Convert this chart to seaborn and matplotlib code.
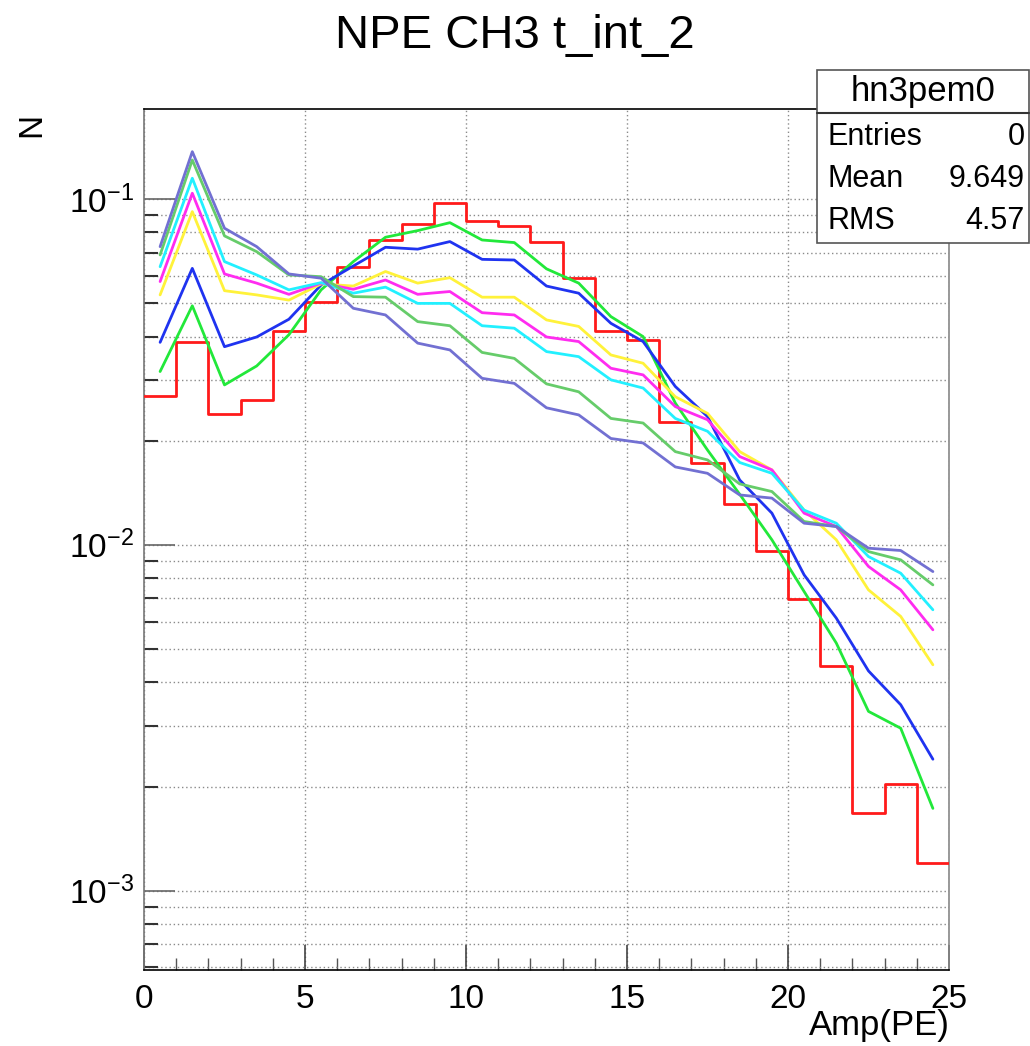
import numpy as np
import pandas as pd
import matplotlib
matplotlib.use("Agg")
import matplotlib.pyplot as plt
import matplotlib.ticker as mticker
from matplotlib.patches import Rectangle
from matplotlib.lines import Line2D
import seaborn as sns

# ---------------- data ----------------
bin_edges = list(range(0, 26))
bin_centers = [i + 0.5 for i in range(25)]

red_hist = [0.0270, 0.0386, 0.0239, 0.0262, 0.0416, 0.0505, 0.0636, 0.0761, 0.0845, 0.0972,
            0.0864, 0.0835, 0.0750, 0.0590, 0.0416, 0.0390, 0.0226, 0.0173, 0.01314, 0.00957,
            0.00697, 0.00445, 0.001677, 0.002037, 0.00120]

green = [0.0317, 0.0491, 0.0290, 0.0329, 0.0405, 0.0546, 0.0659, 0.0775, 0.0810, 0.0854,
         0.0761, 0.0748, 0.0628, 0.0571, 0.0457, 0.0400, 0.0257, 0.0188, 0.0140, 0.01034,
         0.00733, 0.00520, 0.00330, 0.00295, 0.00173]

blue = [0.0385, 0.0630, 0.0374, 0.0399, 0.0449, 0.0564, 0.0640, 0.0725, 0.0716, 0.0753,
        0.0669, 0.0666, 0.0560, 0.0534, 0.0437, 0.0387, 0.0287, 0.0235, 0.0154, 0.01235,
        0.00819, 0.00614, 0.00432, 0.00345, 0.00240]

yellow = [0.0528, 0.0919, 0.0543, 0.0528, 0.0510, 0.0568, 0.0560, 0.0617, 0.0571, 0.0592,
          0.0520, 0.0520, 0.0447, 0.0428, 0.0354, 0.0335, 0.0268, 0.0240, 0.0186, 0.01647,
          0.0126, 0.01034, 0.00741, 0.00621, 0.00450]

magenta = [0.0577, 0.1039, 0.0607, 0.0571, 0.0530, 0.0571, 0.0548, 0.0583, 0.0530, 0.0540,
           0.0469, 0.0462, 0.0399, 0.0387, 0.0324, 0.0310, 0.0251, 0.0230, 0.0180, 0.01647,
           0.01235, 0.0113, 0.00866, 0.00741, 0.00568]

cyan = [0.0637, 0.1148, 0.0659, 0.0603, 0.0546, 0.0573, 0.0534, 0.0556, 0.0499, 0.0499,
        0.0430, 0.0423, 0.0362, 0.0350, 0.0300, 0.0284, 0.0232, 0.0213, 0.0173, 0.0161,
        0.0126, 0.01155, 0.00925, 0.00828, 0.00649]

soft_green = [0.0689, 0.1296, 0.0782, 0.0704, 0.0603, 0.0596, 0.0522, 0.0520, 0.0442, 0.0430,
              0.0360, 0.0346, 0.0292, 0.0277, 0.0232, 0.0225, 0.0186, 0.0176, 0.0150, 0.01426,
              0.01168, 0.0113, 0.00956, 0.00905, 0.00766]

slate = [0.0728, 0.1370, 0.0823, 0.0728, 0.0607, 0.0590, 0.0483, 0.0462, 0.0383, 0.0366,
         0.0303, 0.0293, 0.0249, 0.02375, 0.0203, 0.0197, 0.0168, 0.0161, 0.01394, 0.01365,
         0.01155, 0.0113, 0.00978, 0.00963, 0.00837]

series_names = ["c3", "c4", "c5", "c6", "c7", "c8", "c9"]
series_values = [green, blue, yellow, magenta, cyan, soft_green, slate]
series_colors = ["#22e83a", "#1f33f0", "#fff23a", "#ff2cf0", "#22f0ff", "#66cc6a", "#7270d2"]

title = "NPE CH3 t_int_2"
xlabel = "Amp(PE)"
ylabel = "N"
stats_name = "hn3pem0"
stats_rows = [("Entries", "0"), ("Mean", "9.649"), ("RMS", "4.57")]
x_major = [0, 5, 10, 15, 20, 25]

# ---------------- style ----------------
sns.set_theme(style="white")
plt.rcParams["font.family"] = ["Liberation Sans", "DejaVu Sans"]
plt.rcParams["text.color"] = "black"
plt.rcParams["xtick.color"] = "black"
plt.rcParams["ytick.color"] = "black"
plt.rcParams["mathtext.fontset"] = "custom"
plt.rcParams["mathtext.rm"] = "Liberation Sans"
plt.rcParams["mathtext.it"] = "Liberation Sans:italic"
plt.rcParams["mathtext.bf"] = "Liberation Sans:bold"

W, H = 1030, 1046
fig = plt.figure(figsize=(W / 100, H / 100), dpi=100)
ax = fig.add_axes([144 / W, 1 - 970 / H, (949 - 144) / W, (970 - 109) / H])

# long-form table for seaborn
rows = []
for name, vals in zip(series_names, series_values):
    for xc, v in zip(bin_centers, vals):
        rows.append({"x": xc, "y": v, "series": name})
df = pd.DataFrame(rows)

ax.set_yscale("log")

sns.histplot(x=bin_centers, weights=red_hist, bins=bin_edges, element="step",
             fill=False, color="#ff1a1a", linewidth=2.0, ax=ax, zorder=3)

sns.lineplot(data=df, x="x", y="y", hue="series", palette=dict(zip(series_names, series_colors)),
             linewidth=2.0, ax=ax, legend=False, estimator=None, sort=False, zorder=4)

ax.set_xlim(0, 25)
ax.set_ylim(5.9e-4, 0.182)

# ticks
ax.xaxis.set_major_locator(mticker.FixedLocator(x_major))
ax.xaxis.set_minor_locator(mticker.MultipleLocator(1))
ax.yaxis.set_major_locator(mticker.LogLocator(base=10, numticks=10))
ax.yaxis.set_minor_locator(mticker.LogLocator(base=10, subs=np.arange(2, 10), numticks=20))
ax.yaxis.set_minor_formatter(mticker.NullFormatter())

def logfmt(v, pos):
    e = int(round(np.log10(v)))
    return r"$10^{%d}$" % e
ax.yaxis.set_major_formatter(mticker.FuncFormatter(logfmt))

ax.tick_params(axis="x", which="major", direction="in", length=18, width=1.2, color="#444444",
               labelsize=24, pad=10, top=False, bottom=True, labelcolor="black")
ax.tick_params(axis="x", which="minor", direction="in", length=9, width=1.0, color="#555555",
               top=False, bottom=True)
ax.tick_params(axis="y", which="major", direction="in", length=22, width=1.2, color="#666666",
               labelsize=24, pad=7, left=True, right=False, labelcolor="black")
ax.tick_params(axis="y", which="minor", direction="in", length=10, width=1.5, color="#333333",
               left=True, right=False)

# grid (ROOT dotted)
ax.grid(True, which="major", axis="x", linestyle=(0, (1, 2)), color="#8a8a8a", linewidth=1.0)
ax.grid(True, which="both", axis="y", linestyle=(0, (1, 2)), color="#8a8a8a", linewidth=1.0)
ax.set_axisbelow(True)

for side, sp in ax.spines.items():
    sp.set_visible(True)
    sp.set_linewidth(1.2)
    sp.set_color("black")
ax.spines["left"].set_color("#777777")
ax.spines["right"].set_color("#888888")

ax.set_xlabel("")
ax.set_ylabel("")

# texts
fig.text(0.5, 1 - 36 / H, title, ha="center", va="center", fontsize=34)
fig.text(950 / W, 1 - 1026 / H, xlabel, ha="right", va="center", fontsize=25)
fig.text(32 / W, 1 - 125 / H, ylabel, ha="center", va="center", fontsize=24, rotation=90)

# stats box
bx0, bx1 = 817 / W, 1029 / W
by_top, by_bot, by_sep = 1 - 70 / H, 1 - 243 / H, 1 - 113 / H
fig.add_artist(Rectangle((bx0, by_bot), bx1 - bx0, by_top - by_bot, transform=fig.transFigure,
                         facecolor="white", edgecolor="#555555", linewidth=1.2, zorder=10))
fig.add_artist(Line2D([bx0, bx1], [by_sep, by_sep], transform=fig.transFigure,
                      color="#333333", linewidth=1.5, zorder=11))
fig.text((bx0 + bx1) / 2, 1 - 92 / H, stats_name, ha="center", va="center", fontsize=25, zorder=12)
for i, (lab, val) in enumerate(stats_rows):
    yy = 1 - (137 + 42 * i) / H
    fig.text(827 / W, yy, lab, ha="left", va="center", fontsize=22, zorder=12)
    fig.text(1025 / W, yy, val, ha="right", va="center", fontsize=22, zorder=12)

fig.savefig("out.png", dpi=100)
